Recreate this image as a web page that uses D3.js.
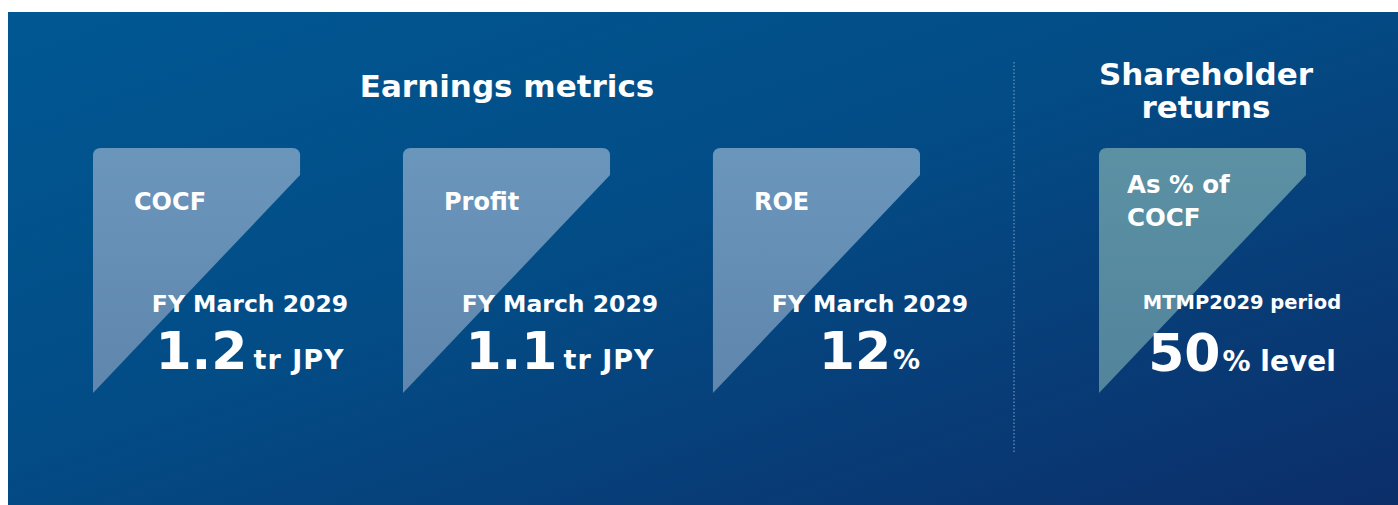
<!DOCTYPE html>
<html><head><meta charset="utf-8">
<script src="https://cdn.jsdelivr.net/npm/d3@7"></script>
<style>
html,body{margin:0;padding:0;background:#fff;}
svg{display:block;}
text{font-family:"DejaVu Sans",sans-serif;font-weight:700;fill:#fff;}
</style></head><body>
<svg id="c" width="1398" height="505"></svg>
<script>
// ---- data ----
const sectionTitles = ["Earnings metrics", ["Shareholder", "returns"]];
const metricNames = ["COCF", "Profit", "ROE"];
const metricPeriods = ["FY March 2029", "FY March 2029", "FY March 2029"];
const metricValues = ["1.2", "1.1", "12"];
const metricUnits = ["tr JPY", "tr JPY", "%"];
const returnName = ["As % of", "COCF"];
const returnPeriod = "MTMP2029 period";
const returnValue = "50";
const returnUnit = "% level";

const W = 1398, H = 505;
const svg = d3.select("#c");
const defs = svg.append("defs");

const bg = defs.append("linearGradient").attr("id","bg").attr("x1","0").attr("y1","0").attr("x2","1").attr("y2","1");
bg.append("stop").attr("offset","0").attr("stop-color","#005893");
bg.append("stop").attr("offset","0.45").attr("stop-color","#034c86");
bg.append("stop").attr("offset","1").attr("stop-color","#0c2e69");

const cg = defs.append("linearGradient").attr("id","card").attr("x1","0").attr("y1","0").attr("x2","0").attr("y2","1");
cg.append("stop").attr("offset","0").attr("stop-color","#6b96bc");
cg.append("stop").attr("offset","1").attr("stop-color","#5f86ad");
const cg2 = defs.append("linearGradient").attr("id","card2").attr("x1","0").attr("y1","0").attr("x2","0").attr("y2","1");
cg2.append("stop").attr("offset","0").attr("stop-color","#5c91a4");
cg2.append("stop").attr("offset","1").attr("stop-color","#52849b");

// background panel
svg.append("rect").attr("x",8).attr("y",12).attr("width",W-8).attr("height",H-12).attr("fill","url(#bg)");

// scales
const x = d3.scaleBand().domain(metricNames).range([93, 920]).paddingInner(0.332).paddingOuter(0);
const xR = d3.scaleBand().domain(["ret"]).range([1099, 1306]).padding(0);
const y = d3.scaleLinear().domain([0, 1]).range([393, 148]); // card vertical extent

const bw = x.bandwidth();
function cardPath(x0, w) {
  const r = 8, top = y(1), bot = y(0), knee = top + 27;
  const p = d3.path();
  p.moveTo(x0, bot);
  p.lineTo(x0, top + r);
  p.quadraticCurveTo(x0, top, x0 + r, top);
  p.lineTo(x0 + w - r, top);
  p.quadraticCurveTo(x0 + w, top, x0 + w, top + r);
  p.lineTo(x0 + w, knee);
  p.closePath();
  return p.toString();
}

// section titles
svg.append("text").attr("x", 507).attr("y", 97)
  .attr("text-anchor","middle").style("font-size","31px").text(sectionTitles[0]);
svg.append("text").attr("x", 1206).attr("y", 85).attr("text-anchor","middle").style("font-size","31px")
  .selectAll("tspan").data(sectionTitles[1]).join("tspan")
  .attr("x",1206).attr("dy",(d,i)=> i ? 33 : 0).text(d=>d);

// divider
svg.append("line").attr("x1",1014).attr("x2",1014).attr("y1",62).attr("y2",452)
  .attr("stroke","#6f93bd").attr("stroke-width",1.2).attr("stroke-dasharray","1.5,2");

// metric cards
const g = svg.selectAll("g.m").data(metricNames).join("g").attr("class","m");
g.append("path").attr("d", d => cardPath(x(d), bw)).attr("fill","url(#card)");
g.append("text").attr("x", d => x(d) + 41).attr("y", 210).style("font-size","24px").text(d => d);
g.append("text").attr("x", d => x(d) + 157).attr("y", 312).attr("text-anchor","middle")
  .style("font-size","23.5px").text((d,i) => metricPeriods[i]);
const vt = g.append("text").attr("x", d => x(d) + 157).attr("y", 369).attr("text-anchor","middle");
vt.append("tspan").style("font-size","52px").text((d,i)=>metricValues[i]);
vt.append("tspan").style("font-size","27px").style("letter-spacing","1px")
  .attr("dx",(d,i)=> metricUnits[i]==="%"?2:6).text((d,i)=>metricUnits[i]);

// shareholder return card
const gr = svg.append("g");
gr.append("path").attr("d", cardPath(xR("ret"), xR.bandwidth())).attr("fill","url(#card2)");
gr.append("text").attr("x", xR("ret") + 28).attr("y", 193).style("font-size","24.5px")
  .selectAll("tspan").data(returnName).join("tspan")
  .attr("x", xR("ret") + 28).attr("dy",(d,i)=> i ? 33 : 0).text(d=>d);
gr.append("text").attr("x", xR("ret") + 143).attr("y", 309).attr("text-anchor","middle")
  .style("font-size","19.5px").text(returnPeriod);
const rt = gr.append("text").attr("x", xR("ret") + 143).attr("y", 371).attr("text-anchor","middle");
rt.append("tspan").style("font-size","52px").text(returnValue);
rt.append("tspan").style("font-size","28px").attr("dx",2).text(returnUnit);
</script>
</body></html>
